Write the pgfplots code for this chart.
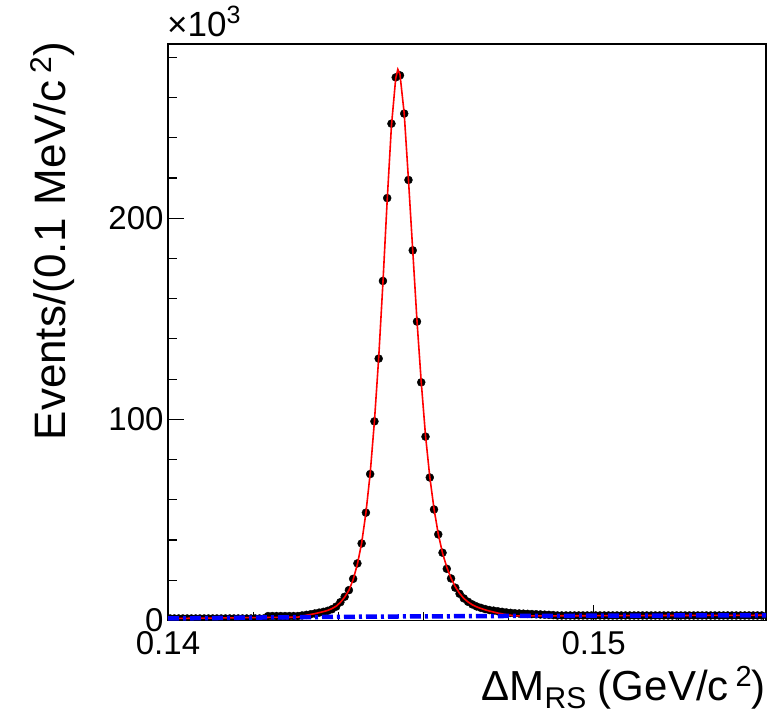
\documentclass[border=0pt]{standalone}
\usepackage{fontspec}
\setmainfont{Liberation Sans}
\usepackage{pgfplots}
\pgfplotsset{compat=1.18}
\definecolor{rootred}{RGB}{255,0,0}
\definecolor{rootblue}{RGB}{0,0,255}

\pgfplotstableread{
x y
0.14005 1.0
0.14015 1.0
0.14025 1.0
0.14035 1.0
0.14045 1.0
0.14055 1.0
0.14065 1.0
0.14075 1.0
0.14085 1.0
0.14095 1.0
0.14105 1.0
0.14115 1.0
0.14125 1.0
0.14135 1.0
0.14145 1.0
0.14155 1.0
0.14165 1.0
0.14175 1.0
0.14185 1.0
0.14195 1.0
0.14205 1.0
0.14215 1.0
0.14225 1.0
0.14235 2.2
0.14245 2.2
0.14255 2.2
0.14265 2.2
0.14275 2.2
0.14285 2.2
0.14295 2.2
0.14305 2.2
0.14315 2.5
0.14325 2.8
0.14335 3.1
0.14345 3.5
0.14355 3.9
0.14365 4.3
0.14375 4.8
0.14385 5.6
0.14395 6.9
0.14405 9.1
0.14415 11.8
0.14425 15.1
0.14435 20.7
0.14445 28.4
0.14455 38.3
0.14465 53.6
0.14475 72.8
0.14485 99.0
0.14495 130.2
0.14505 168.8
0.14515 210.0
0.14525 247.0
0.14535 270.0
0.14545 271.0
0.14555 252.0
0.14565 219.0
0.14575 184.0
0.14585 148.6
0.14595 118.4
0.14605 91.4
0.14615 71.1
0.14625 55.2
0.14635 42.8
0.14645 33.7
0.14655 25.7
0.14665 20.9
0.14675 16.3
0.14685 13.3
0.14695 11.0
0.14705 9.3
0.14715 8.0
0.14725 7.0
0.14735 6.3
0.14745 5.7
0.14755 5.2
0.14765 4.9
0.14775 4.6
0.14785 4.3
0.14795 4.0
0.14805 3.8
0.14815 3.6
0.14825 3.5
0.14835 3.4
0.14845 3.3
0.14855 3.2
0.14865 3.1
0.14875 3.0
0.14885 2.9
0.14895 2.8
0.14905 2.7
0.14915 2.5
0.14925 2.5
0.14935 2.5
0.14945 2.5
0.14955 2.5
0.14965 2.5
0.14975 2.5
0.14985 2.5
0.14995 2.5
0.15005 2.5
0.15015 2.5
0.15025 2.5
0.15035 2.5
0.15045 2.5
0.15055 2.5
0.15065 2.5
0.15075 2.5
0.15085 2.5
0.15095 2.5
0.15105 2.5
0.15115 2.5
0.15125 2.5
0.15135 2.5
0.15145 2.5
0.15155 2.5
0.15165 2.5
0.15175 2.5
0.15185 2.5
0.15195 2.5
0.15205 2.5
0.15215 2.5
0.15225 2.5
0.15235 2.5
0.15245 2.5
0.15255 2.5
0.15265 2.5
0.15275 2.5
0.15285 2.5
0.15295 2.5
0.15305 2.5
0.15315 2.5
0.15325 2.5
0.15335 2.5
0.15345 2.5
0.15355 2.5
0.15365 2.5
0.15375 2.5
0.15385 2.5
0.15395 2.5
}\datatable

\pgfplotstableread{
x y
0.14000 1.0
0.14100 1.2
0.14200 1.45
0.14305 1.65
0.14315 2.2
0.14325 2.6
0.14335 3.0
0.14345 3.4
0.14355 3.9
0.14365 4.4
0.14375 5.0
0.14385 5.9
0.14395 7.1
0.14405 9.0
0.14415 11.6
0.14425 15.0
0.14435 20.3
0.14445 28.0
0.14455 38.5
0.14465 53.5
0.14475 73.0
0.14485 99.0
0.14495 130.5
0.14505 168.0
0.14515 209.0
0.14525 246.0
0.14535 269.5
0.14540 274.0
0.14545 271.5
0.14555 252.0
0.14565 219.0
0.14575 184.0
0.14585 149.0
0.14595 118.5
0.14605 92.0
0.14615 71.5
0.14625 55.5
0.14635 43.0
0.14645 33.5
0.14655 26.5
0.14665 21.0
0.14675 16.8
0.14685 13.5
0.14695 11.0
0.14705 9.2
0.14715 7.8
0.14725 6.8
0.14735 6.0
0.14745 5.3
0.14755 4.7
0.14765 4.2
0.14775 3.7
0.14785 3.3
0.14795 2.9
0.14805 2.6
0.14815 2.3
0.14900 2.32
0.15000 2.4
0.15200 2.5
0.15405 2.6
}\fittable

\pgfplotstableread{
x y
0.14000 1.0
0.14100 1.2
0.14200 1.45
0.14300 1.65
0.14400 1.8
0.14500 1.95
0.14600 2.05
0.14700 2.15
0.14800 2.25
0.14900 2.32
0.15000 2.4
0.15200 2.5
0.15405 2.6
}\bkgtable

\begin{document}
\begin{tikzpicture}
\useasboundingbox (-168pt,-94.5pt) rectangle (600pt,620.5pt);
\begin{axis}[
  name=ax,
  at={(0pt,0pt)}, anchor=south west,
  scale only axis, width=598pt, height=576.5pt,
  xmin=0.14, xmax=0.15405, ymin=0, ymax=286.6,
  clip marker paths=true,
  axis line style={line width=1.5pt},
  tick pos=left, tick align=inside,
  xtick={0.14,0.15}, xticklabels={0.14,0.15},
  minor xtick={0.142,0.144,0.146,0.148,0.152,0.154},
  ytick={0,100,200},
  minor ytick={20,40,60,80,120,140,160,180,220,240,260,280},
  major tick length=16pt, minor tick length=9pt,
  every tick/.style={black, line width=1.2pt},
  /pgf/number format/assume math mode=true,
  scaled ticks=false,
  ticklabel style={font=\fontsize{33}{33}\selectfont},
  xticklabel style={yshift=-7pt},
  yticklabel style={xshift=-1pt},
]
\addplot[only marks, mark=*, mark size=4pt, black] table[x=x,y=y] {\datatable};
\addplot[rootred, line width=1.6pt, mark=none] table[x=x,y=y] {\fittable};
\addplot[rootblue, line width=4.5pt, mark=none, dash pattern=on 11pt off 4pt on 3pt off 4pt] table[x=x,y=y] {\bkgtable};
\end{axis}
\node[anchor=base west, inner sep=0pt, font=\fontsize{35}{35}\selectfont] at ([xshift=-1pt,yshift=7pt]ax.north west) {×10\raisebox{13pt}{\fontsize{25}{25}\selectfont 3}};
\node[rotate=90, anchor=south east, inner sep=0pt, font=\fontsize{44}{44}\selectfont] at ([xshift=-93pt,yshift=2pt]ax.north west) {Events/(0.1 MeV/c\,\raisebox{14pt}{\fontsize{30}{30}\selectfont 2})};
\node[anchor=base east, inner sep=0pt, font=\fontsize{42}{42}\selectfont] at ([yshift=-79.5pt]ax.south east) {ΔM\raisebox{-8pt}{\fontsize{30}{30}\selectfont RS} (GeV/c\,\raisebox{14pt}{\fontsize{29}{29}\selectfont 2})};
\end{tikzpicture}
\end{document}
